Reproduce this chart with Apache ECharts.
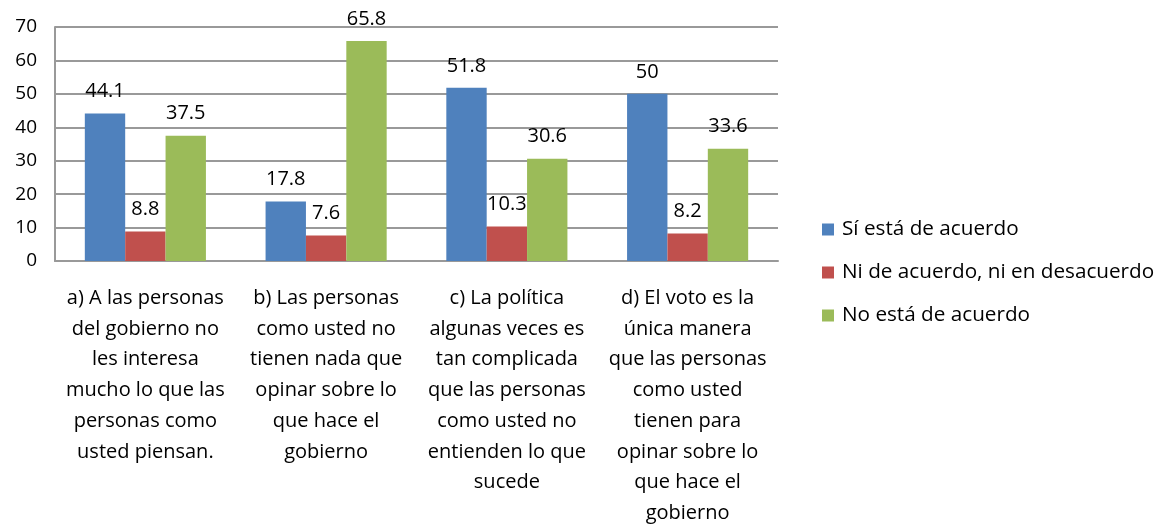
<!DOCTYPE html>
<html><head><meta charset="utf-8">
<script src="https://cdn.jsdelivr.net/npm/echarts@6/dist/echarts.min.js"></script>
<style>html,body{margin:0;padding:0;background:#fff}#c{width:1162px;height:527px}</style>
</head><body><div id="c"></div>
<script>
const categories = [
  "a) A las personas\ndel gobierno no\nles interesa\nmucho lo que las\npersonas como\nusted piensan.",
  "b) Las personas\ncomo usted no\ntienen nada que\nopinar sobre lo\nque hace el\ngobierno",
  "c) La política\nalgunas veces es\ntan complicada\nque las personas\ncomo usted no\nentienden lo que\nsucede",
  "d) El voto es la\núnica manera\nque las personas\ncomo usted\ntienen para\nopinar sobre lo\nque hace el\ngobierno"
];
const seriesNames = ["Sí está de acuerdo", "Ni de acuerdo, ni en desacuerdo", "No está de acuerdo"];
const siValues = [44.1, 17.8, 51.8, 50];
const niValues = [8.8, 7.6, 10.3, 8.2];
const noValues = [37.5, 65.8, 30.6, 33.6];
const colors = ["#4F81BD", "#C0504D", "#9BBB59"];

const font = "'Open Sans', Lato, sans-serif";
const chart = echarts.init(document.getElementById('c'));
const mk = (name, data, color) => ({
  name, type: 'bar', data, barGap: '0%', barCategoryGap: '33%',
  itemStyle: { color },
  label: { show: true, position: 'top', distance: 12, color: '#000', fontFamily: font, fontSize: 20 }
});
chart.setOption({
  animation: false,
  color: colors,
  textStyle: { fontFamily: font },
  grid: { left: 55, top: 27, right: 384, bottom: 266, outerBoundsMode: 'none', containLabel: false },
  legend: {
    orient: 'vertical', left: 817, top: 214,
    itemWidth: 12, itemHeight: 12, itemGap: 22,
    icon: 'rect',
    textStyle: { fontFamily: font, fontSize: 20.7, color: '#000', padding: [0, 0, 0, 3] },
    data: seriesNames
  },
  xAxis: {
    type: 'category', data: categories,
    axisLine: { lineStyle: { color: '#999', width: 2 } },
    axisTick: { show: false },
    axisLabel: { interval: 0, color: '#000', fontFamily: font, fontSize: 20, lineHeight: 30.7, margin: 22 }
  },
  yAxis: {
    type: 'value', min: 0, max: 70, interval: 10,
    axisLine: { show: true, lineStyle: { color: '#999', width: 2 } },
    axisTick: { show: false },
    splitLine: { lineStyle: { color: '#999', width: 2 } },
    axisLabel: { color: '#000', fontFamily: font, fontSize: 19, margin: 18 }
  },
  series: [
    mk(seriesNames[0], siValues, colors[0]),
    mk(seriesNames[1], niValues, colors[1]),
    mk(seriesNames[2], noValues, colors[2])
  ]
});
</script></body></html>
